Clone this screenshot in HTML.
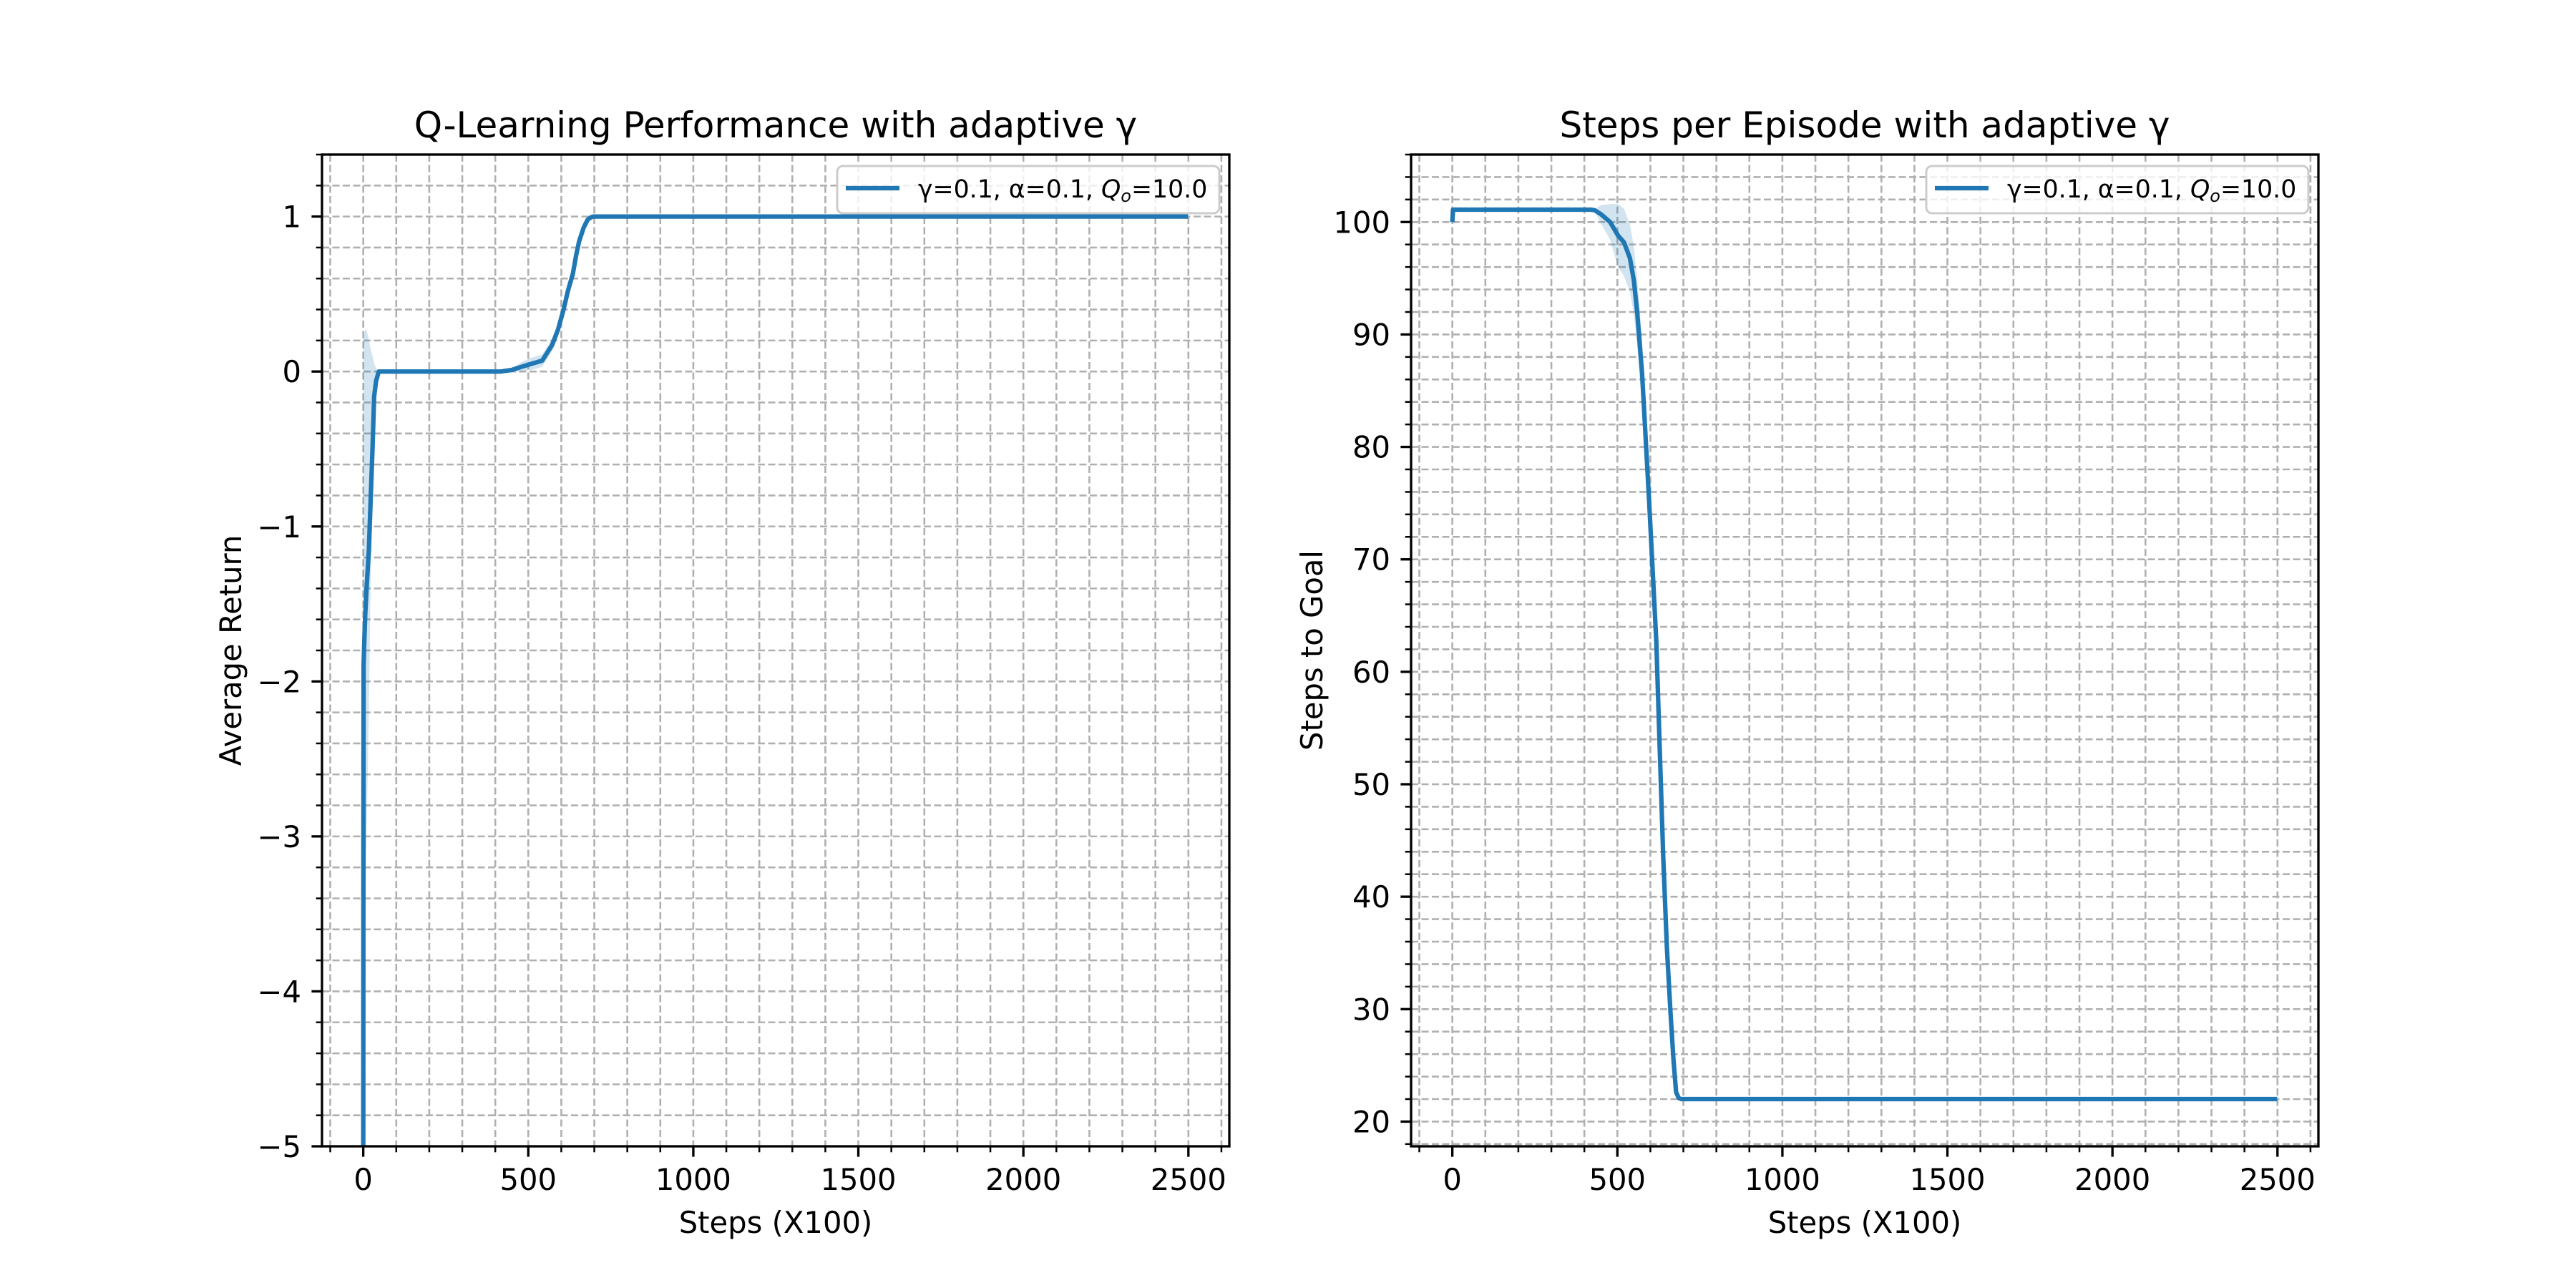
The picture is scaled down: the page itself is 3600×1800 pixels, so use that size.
<!DOCTYPE html>
<html><head><meta charset="utf-8"><style>
html,body{margin:0;padding:0;background:#fff}
svg{display:block}
text{font-family:"DejaVu Sans","Liberation Sans",sans-serif;fill:#000}
</style></head><body>
<svg id="fig" width="3600" height="1800" viewBox="0 0 3600 1800" xmlns="http://www.w3.org/2000/svg"></svg>
<script>
// ---- Chart data ----
const retX = [0,0.5,1,3,6,10,17,22,28,33,39,47,60,200,417,450,479,510,542,572,590,607,620,635,645,654,668,680,690,697,720,1000,1500,2000,2499];
const retY = [-5,-3,-1.9,-1.75,-1.57,-1.4,-1.15,-0.85,-0.5,-0.16,-0.06,0,0,0,0,0.01,0.03,0.05,0.07,0.17,0.27,0.40,0.52,0.63,0.75,0.84,0.93,0.98,0.995,1,1,1,1,1,1];
const retHi = [-5,0.2,0.22,0.25,0.27,0.27,0.2,0.15,0.1,0.05,0.02,0,0,0,0,0.02,0.06,0.09,0.11,0.21,0.31,0.44,0.55,0.66,0.77,0.86,0.94,0.99,1,1,1,1,1,1,1];
const retLo = [-5,-5,-5,-4,-3.5,-3,-2.2,-1.4,-0.9,-0.4,-0.15,0,0,0,0,0,0,0.01,0.03,0.13,0.23,0.36,0.49,0.60,0.73,0.82,0.92,0.97,0.99,1,1,1,1,1,1];
const stepX = [0,2,5,100,300,420,431,450,478,490,502,520,538,550,560,575,596,607,618,628,639,650,661,670,678,686,693,700,1000,2499];
const stepY = [100,101.1,101.1,101.1,101.1,101.1,101.05,100.7,100,99.4,98.8,98.2,96.8,94.8,92.0,86.5,75.3,69,62.7,53.5,43.5,35.5,29.7,25.5,22.6,22.1,22,22,22,22];
const stepSpread = [0,0,0,0,0,0,0.1,0.8,1.6,2.2,2.8,3,3,3,3,3,2.5,2.5,2.5,2,2,1.5,1.2,0.8,0.4,0.2,0,0,0,0];
const xTicks = [0,500,1000,1500,2000,2500];
const retTicks = [-5,-4,-3,-2,-1,0,1];
const stepTicks = [20,30,40,50,60,70,80,90,100];
const seriesLabel = "γ=0.1, α=0.1, ";

const NS = "http://www.w3.org/2000/svg";
const svg = document.getElementById('fig');
function mk(tag, attrs, parent){
  const e = document.createElementNS(NS, tag);
  for (const k in attrs) e.setAttribute(k, attrs[k]);
  (parent||svg).appendChild(e);
  return e;
}
const FS = 41.7;

function drawPanel(cfg){
  const g = mk('g', {});
  
  
  const L=cfg.left, R=cfg.right, T=216, B=1602;
  const sx = v => L + (v - cfg.xmin)/(cfg.xmax-cfg.xmin)*(R-L);
  const sy = v => B - (v - cfg.ymin)/(cfg.ymax-cfg.ymin)*(B-T);
  const grid = mk('g', {stroke:'#b0b0b0','stroke-width':2.6,'stroke-dasharray':'10 4.5'}, g);
  
  
  for (let v=-100; v<=2600; v+=100){
    const x=sx(v);
    mk('line',{x1:x,x2:x,y1:T,y2:B},grid);
  }
  const ys=[];
  for (let v=cfg.ymin; v<=cfg.ymax+1e-9; v+=cfg.yminor){ ys.push(Math.round(v/cfg.yminor)*cfg.yminor); }
  ys.forEach(v=>{ const y=sy(v); mk('line',{x1:L,x2:R,y1:y,y2:y},grid); });
  const clipId = cfg.name+'-clip';
  const cp = mk('clipPath',{id:clipId},g);
  mk('rect',{x:L,y:T,width:R-L,height:B-T},cp);
  let d='';
  cfg.x.forEach((v,i)=>{ d += (i?'L':'M')+sx(v).toFixed(2)+','+sy(cfg.hi[i]).toFixed(2); });
  for (let i=cfg.x.length-1;i>=0;i--) d += 'L'+sx(cfg.x[i]).toFixed(2)+','+sy(cfg.lo[i]).toFixed(2);
  const band = mk('path',{d:d+'Z',fill:'#1f77b4','fill-opacity':0.2,stroke:'none','clip-path':'url(#'+clipId+')'},g);
  
  
  let ld='';
  cfg.x.forEach((v,i)=>{ ld += (i?'L':'M')+sx(v).toFixed(2)+','+sy(cfg.y[i]).toFixed(2); });
  const line = mk('path',{d:ld,fill:'none',stroke:'#1f77b4','stroke-width':6.25,'stroke-linejoin':'round','clip-path':'url(#'+clipId+')'},g);
  
  
  const sp = mk('rect',{x:L,y:T,width:R-L,height:B-T,fill:'none',stroke:'#000','stroke-width':3.33},g);
  
  
  for (let v=-100; v<=2600; v+=100){
    const x=sx(v), major = xTicks.includes(v);
    mk('line',{x1:x,x2:x,y1:B,y2:B+(major?14.6:8.3),stroke:'#000','stroke-width':major?3.33:2.5},g);
  }
  xTicks.forEach(v=>{
    const t=mk('text',{x:sx(v),y:1663,'text-anchor':'middle','font-size':FS},g);
    t.textContent=String(v);
    
    
  });
  ys.forEach(v=>{
    const y=sy(v), major = cfg.yTicks.some(t=>Math.abs(t-v)<1e-6);
    mk('line',{x1:L,x2:L-(major?14.6:8.3),y1:y,y2:y,stroke:'#000','stroke-width':major?3.33:2.5},g);
  });
  cfg.yTicks.forEach(v=>{
    const t=mk('text',{x:L-29,y:sy(v)+15,'text-anchor':'end','font-size':FS},g);
    t.textContent=String(v).replace('-','\u2212');
    
    
  });
  const tt=mk('text',{x:(L+R)/2,y:192,'text-anchor':'middle','font-size':50},g);
  tt.textContent=cfg.title;
  
  
  const xl=mk('text',{x:(L+R)/2,y:1723,'text-anchor':'middle','font-size':FS},g);
  xl.textContent='Steps (X100)';
  
  
  const yl=mk('text',{x:0,y:0,'text-anchor':'middle','font-size':FS,transform:'translate('+cfg.ylabelX+','+((T+B)/2)+') rotate(-90)'},g);
  yl.textContent=cfg.ylabel;
  
  
  const lg=mk('g',{},g);
  
  
  const lw=cfg.legendW, lx=R-14-lw;
  mk('rect',{x:lx,y:232,width:lw,height:66,rx:8,fill:'#fff','fill-opacity':0.8,stroke:'#cccccc','stroke-width':3},lg);
  mk('line',{x1:lx+12,x2:lx+87,y1:263,y2:263,stroke:'#1f77b4','stroke-width':6.25},lg);
  const lt=mk('text',{x:lx+113,y:276,'font-size':34.7},lg);
  
  
  lt.appendChild(document.createTextNode(seriesLabel));
  const q=mk('tspan',{'font-style':'italic'},lt); q.textContent='Q';
  const s=mk('tspan',{'font-style':'italic','font-size':24,dy:6},lt); s.textContent='o';
  const r=mk('tspan',{dy:-6},lt); r.textContent='=10.0';
}

drawPanel({name:'return-chart',left:450,right:1718,xmin:-125,xmax:2624,ymin:-5,ymax:1.4,yminor:0.2,yTicks:retTicks,
  x:retX,y:retY,hi:retHi,lo:retLo,title:'Q-Learning Performance with adaptive γ',ylabel:'Average Return',ylabelX:337,legendW:534});
const stepHi = stepY.map((v,i)=>v+stepSpread[i]);
const stepLo = stepY.map((v,i)=>v-stepSpread[i]);
drawPanel({name:'steps-chart',left:1972,right:3240,xmin:-125,xmax:2624,ymin:17.8,ymax:106,yminor:2,yTicks:stepTicks,
  x:stepX,y:stepY,hi:stepHi,lo:stepLo,title:'Steps per Episode with adaptive γ',ylabel:'Steps to Goal',ylabelX:1848,legendW:534});
</script>
</body></html>
